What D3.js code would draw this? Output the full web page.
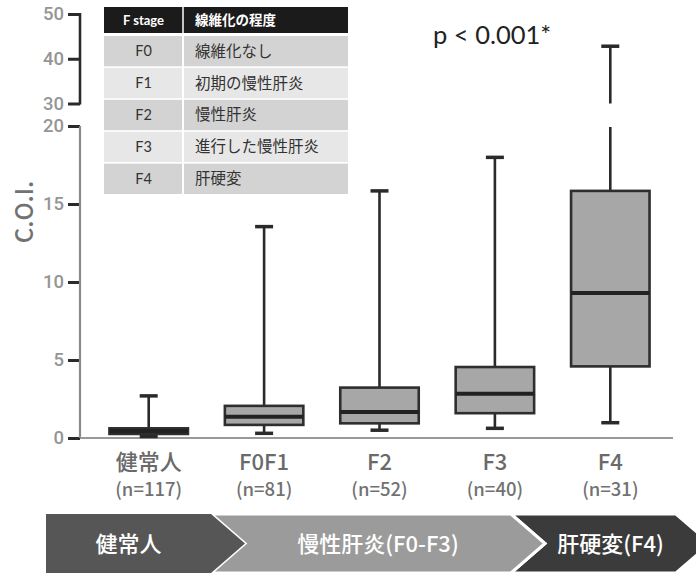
<!DOCTYPE html>
<html>
<head>
<meta charset="utf-8">
<script src="https://cdn.jsdelivr.net/npm/d3@7"></script>
<style>
  html, body { margin: 0; padding: 0; background: #fff; }
  svg { display: block; }
  .num { font-family: "Noto Sans CJK JP", sans-serif; font-weight: 500; }
  .tick-num { font-family: Roboto, sans-serif; font-weight: 500; }
  .jp { font-family: "Noto Sans CJK JP", sans-serif; }
  .lat { font-family: Lato, "Noto Sans CJK JP", sans-serif; }
</style>
</head>
<body>
<svg id="chart" width="696" height="574"></svg>
<script>
// Box-plot summaries per group (C.O.I.)
const groups = ["健常人", "F0F1", "F2", "F3", "F4"];
const counts = [117, 81, 52, 40, 31];
const whiskerLow = [0.1, 0.3, 0.5, 0.62, 0.98];
const q1 = [0.26, 0.84, 0.94, 1.59, 4.59];
const median = [0.45, 1.37, 1.67, 2.83, 9.3];
const q3 = [0.62, 2.06, 3.23, 4.55, 15.84];
const whiskerHigh = [2.7, 13.55, 15.84, 17.99, 42.8];

// Broken y axis: lower and upper segments
const lowerTicks = [0, 5, 10, 15, 20];
const upperTicks = [30, 40, 50];

// Fibrosis stage legend table
const tableHeader = ["F stage", "線維化の程度"];
const stages = ["F0", "F1", "F2", "F3", "F4"];
const stageDesc = ["線維化なし", "初期の慢性肝炎", "慢性肝炎", "進行した慢性肝炎", "肝硬変"];

// Bottom progression banner
const bannerLabels = ["健常人", "慢性肝炎(F0-F3)", "肝硬変(F4)"];
const bannerColors = ["#565656", "#9b9b9b", "#3b3b3b"];

const pLabel = "p < 0.001*";
const yTitle = "C.O.I.";

const svg = d3.select("#chart");

const axisX = 80;
const x = d3.scaleBand().domain(groups).range([91, 668]).paddingInner(0.32).paddingOuter(0.16);
const yLow = d3.scaleLinear().domain([0, 20]).range([438, 126]);
const yHigh = d3.scaleLinear().domain([30, 50]).range([103.5, 14]);

// ---- axes ----
const gLow = svg.append("g").attr("transform", `translate(${axisX},0)`)
  .call(d3.axisLeft(yLow).tickValues(lowerTicks).tickSize(12).tickPadding(4));
const gHigh = svg.append("g").attr("transform", `translate(${axisX},0)`)
  .call(d3.axisLeft(yHigh).tickValues(upperTicks).tickSize(12).tickPadding(4));

gLow.select(".domain").remove();
gHigh.select(".domain").remove();
svg.append("line").attr("x1", axisX).attr("x2", axisX)
  .attr("y1", yLow(20)).attr("y2", yLow(0))
  .attr("stroke", "#8a8a8a").attr("stroke-width", 2.2);
svg.append("line").attr("x1", axisX).attr("x2", axisX)
  .attr("y1", yHigh(50) - 1).attr("y2", yHigh(30) + 1)
  .attr("stroke", "#2a2a2a").attr("stroke-width", 2.6);

[gLow, gHigh].forEach(g => {
  g.selectAll(".tick line").attr("stroke", "#2a2a2a").attr("stroke-width", 3);
  g.selectAll(".tick text").attr("class", "tick-num")
    .attr("fill", "#959595").attr("font-size", 18.5);
});

// x baseline
svg.append("line").attr("x1", axisX).attr("x2", 673)
  .attr("y1", yLow(0)).attr("y2", yLow(0))
  .attr("stroke", "#999").attr("stroke-width", 2.2);

// y title
svg.append("text").attr("class", "num")
  .attr("transform", `translate(33,212) rotate(-90)`)
  .attr("text-anchor", "middle")
  .attr("fill", "#727272").attr("font-size", 24)
  .text(yTitle);

// ---- boxes ----
const data = groups.map((g, i) => ({
  g, n: counts[i], lo: whiskerLow[i], q1: q1[i], med: median[i], q3: q3[i], hi: whiskerHigh[i]
}));

const bw = x.bandwidth();
const capW = 18;
const box = svg.append("g").selectAll("g").data(data).join("g")
  .attr("transform", d => `translate(${x(d.g) + bw / 2},0)`);

// upper whisker (split across the axis break if needed)
box.append("line")
  .attr("x1", 0).attr("x2", 0)
  .attr("y1", d => yLow(d.q3))
  .attr("y2", d => d.hi > 20 ? yLow(20) + 1 : yLow(d.hi))
  .attr("stroke", "#2a2a2a").attr("stroke-width", 2.6);
box.filter(d => d.hi > 30).append("line")
  .attr("x1", 0).attr("x2", 0)
  .attr("y1", yHigh(30)).attr("y2", d => yHigh(d.hi))
  .attr("stroke", "#2a2a2a").attr("stroke-width", 2.6);
box.append("line")
  .attr("x1", -capW / 2).attr("x2", capW / 2)
  .attr("y1", d => d.hi > 30 ? yHigh(d.hi) : yLow(d.hi))
  .attr("y2", d => d.hi > 30 ? yHigh(d.hi) : yLow(d.hi))
  .attr("stroke", "#2a2a2a").attr("stroke-width", 3.5);

// lower whisker
box.append("line")
  .attr("x1", 0).attr("x2", 0)
  .attr("y1", d => yLow(d.q1)).attr("y2", d => yLow(d.lo))
  .attr("stroke", "#2a2a2a").attr("stroke-width", 2.6);
box.append("line")
  .attr("x1", -capW / 2).attr("x2", capW / 2)
  .attr("y1", d => yLow(d.lo)).attr("y2", d => yLow(d.lo))
  .attr("stroke", "#2a2a2a").attr("stroke-width", 3.5);

// box body
box.append("rect")
  .attr("x", -bw / 2).attr("width", bw)
  .attr("y", d => yLow(d.q3)).attr("height", d => yLow(d.q1) - yLow(d.q3))
  .attr("fill", "#a7a7a7").attr("stroke", "#2e2e2e").attr("stroke-width", 2.6);

// median
box.append("line")
  .attr("x1", -bw / 2).attr("x2", bw / 2)
  .attr("y1", d => yLow(d.med)).attr("y2", d => yLow(d.med))
  .attr("stroke", "#222").attr("stroke-width", 4);

// category labels
box.append("text").attr("class", "num")
  .attr("y", 470).attr("text-anchor", "middle")
  .attr("fill", "#6a6a6a").attr("font-size", 22)
  .text(d => d.g);
box.append("text").attr("class", "num")
  .attr("y", 496).attr("text-anchor", "middle")
  .attr("fill", "#727272").attr("font-size", 18.5)
  .text(d => `(n=${d.n})`);

// p-value
svg.append("text").attr("class", "lat")
  .attr("x", 433).attr("y", 44)
  .attr("fill", "#222").attr("font-size", 25.5)
  .text(pLabel);

// ---- legend table ----
const tbl = svg.append("g");
const tx0 = 104, tx1 = 183, tx2 = 348;
tbl.append("rect").attr("x", tx0).attr("y", 7).attr("width", tx2 - tx0).attr("height", 26).attr("fill", "#1b1b1b");
tbl.append("line").attr("x1", tx1).attr("x2", tx1).attr("y1", 7).attr("y2", 33).attr("stroke", "#fff").attr("stroke-width", 1.5);
tbl.append("text").attr("class", "lat").attr("x", (tx0 + tx1) / 2).attr("y", 25)
  .attr("text-anchor", "middle").attr("fill", "#fff").attr("font-size", 13).attr("font-weight", "bold")
  .text(tableHeader[0]);
tbl.append("text").attr("class", "jp").attr("x", 195).attr("y", 25)
  .attr("fill", "#fff").attr("font-size", 13.5).attr("font-weight", "bold")
  .text(tableHeader[1]);

const rowY = d3.scaleBand().domain(stages).range([36, 194]).paddingInner(0.05);
const row = tbl.selectAll("g.row").data(stages).join("g").attr("class", "row")
  .attr("transform", d => `translate(0,${rowY(d)})`);
row.append("rect").attr("x", tx0).attr("width", tx1 - tx0 - 1).attr("height", rowY.bandwidth())
  .attr("fill", (d, i) => i % 2 === 0 ? "#d3d3d3" : "#e7e7e7");
row.append("rect").attr("x", tx1 + 1).attr("width", tx2 - tx1 - 1).attr("height", rowY.bandwidth())
  .attr("fill", (d, i) => i % 2 === 0 ? "#d3d3d3" : "#e7e7e7");
row.append("text").attr("class", "lat").attr("x", (tx0 + tx1) / 2).attr("y", rowY.bandwidth() / 2 + 5)
  .attr("text-anchor", "middle").attr("fill", "#333").attr("font-size", 14.5)
  .text(d => d);
row.append("text").attr("class", "jp").attr("x", 195).attr("y", rowY.bandwidth() / 2 + 5.5)
  .attr("fill", "#333").attr("font-size", 15.5)
  .text((d, i) => stageDesc[i]);

// ---- progression banner ----
const bTop = 514, bBot = 573, bMid = (bTop + bBot) / 2, depth = 34;
const bEdges = [46, 211, 511, 676];
const ban = svg.append("g");
bannerLabels.forEach((lab, i) => {
  const l = bEdges[i], r = bEdges[i + 1];
  const pts = i === 0
    ? [[l, bTop], [r, bTop], [r + depth, bMid], [r, bBot], [l, bBot]]
    : [[l, bTop], [r, bTop], [r + depth, bMid], [r, bBot], [l, bBot], [l + depth, bMid]];
  ban.append("path").attr("d", d3.line()(pts) + "Z")
    .attr("fill", bannerColors[i]).attr("stroke", "#fff").attr("stroke-width", i === 0 ? 0 : 3)
    .lower();
  const cx = i === 0 ? (l + r) / 2 : (l + r) / 2 + depth / 2;
  ban.append("text").attr("class", "jp")
    .attr("x", cx).attr("y", bMid + 8).attr("text-anchor", "middle")
    .attr("fill", "#fff").attr("font-size", 22).attr("font-weight", 500)
    .text(lab);
});
</script>
</body>
</html>
